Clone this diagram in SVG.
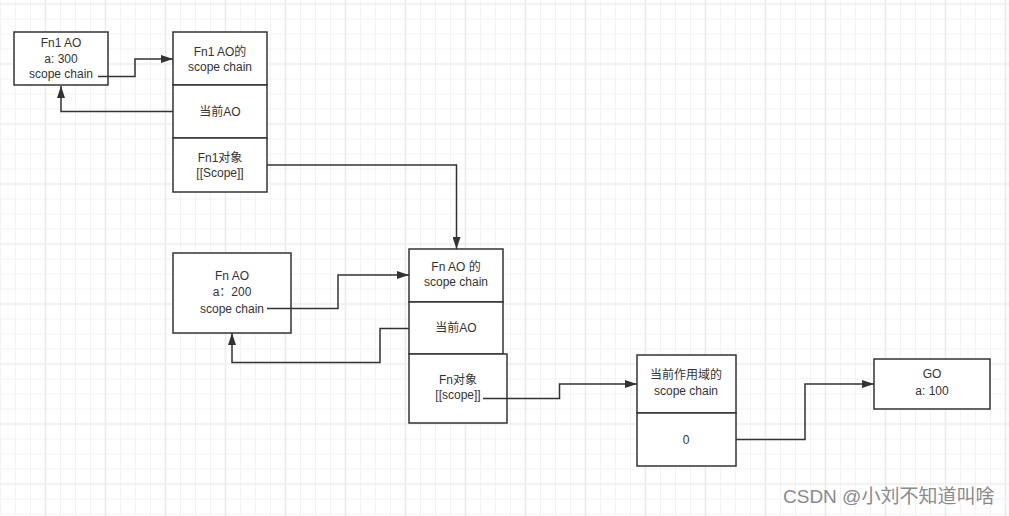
<svg xmlns="http://www.w3.org/2000/svg" width="1009" height="516" viewBox="0 0 1009 516">
<defs>
<pattern id="grid" x="8" y="-33.5" width="60" height="60" patternUnits="userSpaceOnUse">
<path d="M7.5,0V60M22.5,0V60M52.5,0V60M0,7.5H60M0,22.5H60M0,52.5H60" stroke="#f3f3f3" stroke-width="1" fill="none"/>
<path d="M37.5,0V60M0,37.5H60" stroke="#ebebeb" stroke-width="1.6" fill="none"/>
</pattern>
<marker id="arr" markerUnits="userSpaceOnUse" markerWidth="12" markerHeight="8" refX="12" refY="4" orient="auto">
<path d="M0,0L12,4L0,8z" fill="#333"/>
</marker>
</defs>
<style>
.box{fill:#fff;stroke:#333;stroke-width:1.5}
.t{font-family:"Liberation Sans",Arial,"Noto Sans CJK SC",sans-serif;font-size:12px;fill:#333;text-anchor:middle}
.c{fill:none;stroke:#333;stroke-width:1.5;marker-end:url(#arr)}
.wm{font-family:"Liberation Sans",Arial,"Noto Sans CJK SC",sans-serif;font-size:19px;fill:#8a8a8a}
</style>
<rect width="1009" height="516" fill="#fff"/>
<rect width="1009" height="516" fill="url(#grid)"/>

<g id="fn1ao">
<rect class="box" x="14" y="32" width="94" height="53"/>
<text class="t" x="61" y="47">Fn1 AO</text>
<text class="t" x="61" y="63">a: 300</text>
<text class="t" x="61" y="78">scope chain</text>
</g>

<g id="fn1stack">
<rect class="box" x="173" y="32" width="94" height="53"/>
<text class="t" x="220" y="56">Fn1 AO的</text>
<text class="t" x="220" y="71">scope chain</text>
<rect class="box" x="173" y="85" width="94" height="53"/>
<text class="t" x="220" y="116">当前AO</text>
<rect class="box" x="173" y="138" width="94" height="54"/>
<text class="t" x="220" y="162">Fn1对象</text>
<text class="t" x="220" y="177">[[Scope]]</text>
</g>

<g id="fnao">
<rect class="box" x="173" y="253" width="118" height="80"/>
<text class="t" x="232" y="280">Fn AO</text>
<text class="t" x="232" y="296">a：200</text>
<text class="t" x="232" y="313">scope chain</text>
</g>

<g id="fnstack">
<rect class="box" x="409" y="249" width="94" height="53"/>
<text class="t" x="456" y="271">Fn AO 的</text>
<text class="t" x="456" y="286">scope chain</text>
<rect class="box" x="409" y="302" width="94" height="52"/>
<text class="t" x="456" y="332">当前AO</text>
<rect class="box" x="409" y="354" width="98" height="69"/>
<text class="t" x="458" y="384">Fn对象</text>
<text class="t" x="458" y="399">[[scope]]</text>
</g>

<g id="scopestack">
<rect class="box" x="637" y="355" width="99" height="58"/>
<text class="t" x="686" y="379">当前作用域的</text>
<text class="t" x="686" y="395">scope chain</text>
<rect class="box" x="637" y="413" width="99" height="53"/>
<text class="t" x="686" y="444">0</text>
</g>

<g id="go">
<rect class="box" x="874" y="359" width="116" height="50"/>
<text class="t" x="932" y="378">GO</text>
<text class="t" x="932" y="395">a: 100</text>
</g>

<g id="connectors">
<path class="c" d="M98,76.5H135V59H173"/>
<path class="c" d="M173,111.5H61V86"/>
<path class="c" d="M267,165H456.5V249"/>
<path class="c" d="M267,308.5H338V275H409"/>
<path class="c" d="M409,328.5H380V362.5H232V333"/>
<path class="c" d="M483,398.5H559.5V384H637"/>
<path class="c" d="M736,439.5H805V384H874"/>
</g>

<text class="wm" x="783" y="503">CSDN @小刘不知道叫啥</text>
</svg>
